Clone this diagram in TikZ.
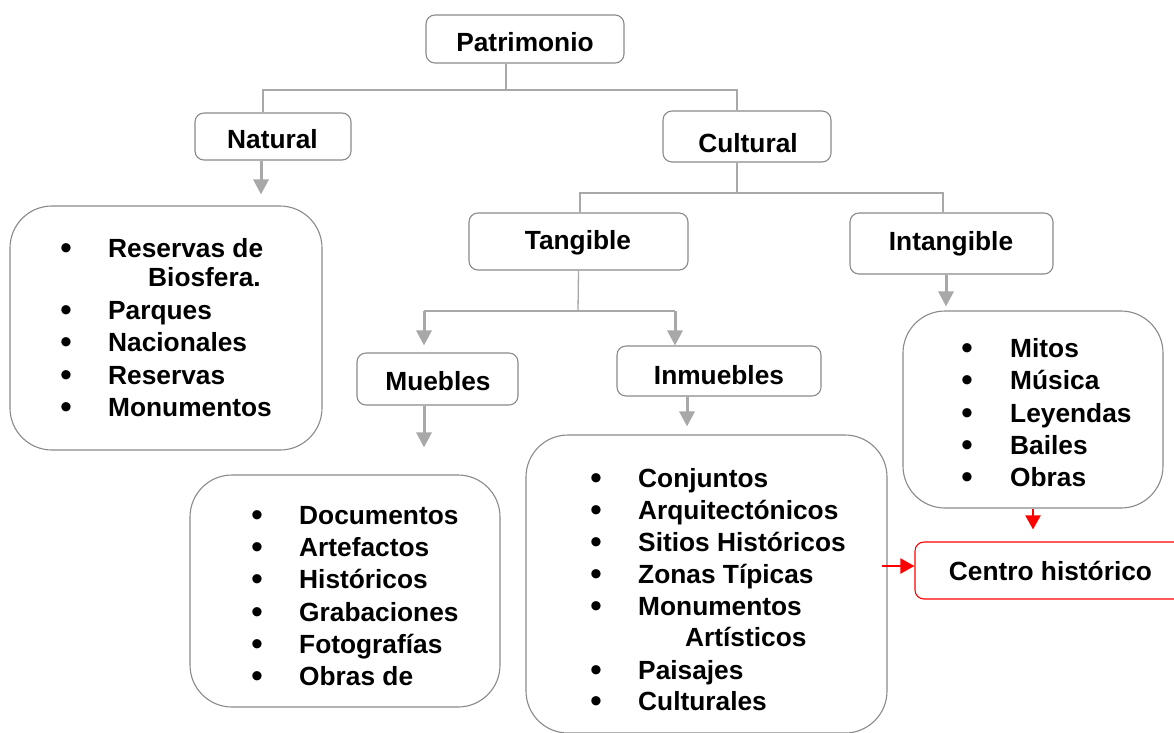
\documentclass[tikz,border=0pt]{standalone}
\usepackage{fontspec}
\setmainfont{Liberation Sans}
\usetikzlibrary{arrows.meta}
\definecolor{boxgray}{HTML}{8A8A8A}
\definecolor{lngray}{HTML}{A8A8A8}
\definecolor{redc}{HTML}{FF0000}
\begin{document}
\begin{tikzpicture}[x=1pt,y=-1pt,
  txt/.style={font=\fontsize{26.3}{32}\selectfont\bfseries, inner sep=0pt},
  lbl/.style={txt, anchor=base},
  itm/.style={txt, anchor=base west},
  bul/.style={font=\fontsize{34}{34}\selectfont, inner sep=0pt, anchor=base, yshift=-2pt},
  smallbox/.style={draw=boxgray, line width=1.1pt, rounded corners=9pt, inner sep=0pt},
  listbox/.style={draw=boxgray, line width=1.1pt, rounded corners=42pt, inner sep=0pt},
  conn/.style={draw=lngray, line width=1.3pt},
  arr/.style={draw=lngray, line width=3pt, -{Triangle[width=15pt,length=15pt]}},
  redarr/.style={draw=redc, line width=2pt, -{Triangle[width=15pt,length=14pt]}}]
\clip (0,0) rectangle (1174,732);
\fill[white] (0,0) rectangle (1174,732);

% ---- boxes ----
\node[smallbox, minimum width=198pt, minimum height=48pt] (pat) at (525,39) {};
\node[smallbox, minimum width=156pt, minimum height=47pt] (nat) at (273,136.5) {};
\node[smallbox, minimum width=168pt, minimum height=51pt] (cul) at (747,136.5) {};
\node[smallbox, minimum width=219pt, minimum height=57pt] (tan) at (578.5,241.5) {};
\node[smallbox, minimum width=203pt, minimum height=61pt] (int) at (951.5,243.5) {};
\node[smallbox, minimum width=161pt, minimum height=52pt] (mue) at (437.5,379) {};
\node[smallbox, minimum width=204pt, minimum height=50pt] (inm) at (719,371) {};
\node[smallbox, draw=redc, minimum width=275pt, minimum height=57pt] (cen) at (1052.5,570.5) {};

\node[listbox, minimum width=312pt, minimum height=244pt] (natl) at (166,328) {};
\node[listbox, minimum width=310pt, minimum height=232pt] (muel) at (345,591) {};
\node[listbox, minimum width=361pt, minimum height=298pt] (inml) at (706.5,584) {};
\node[listbox, minimum width=260pt, minimum height=197pt] (intl) at (1033,409.5) {};

% ---- box labels ----
\node[lbl] (patT) at (525,51) {Patrimonio};
\node[lbl] (natT) at (272.5,148) {Natural};
\node[lbl] (culT) at (748,152) {Cultural};
\node[lbl] (tanT) at (578,249) {Tangible};
\node[lbl] (intT) at (951,250) {Intangible};
\node[lbl] (mueT) at (438,390) {Muebles};
\node[lbl] (inmT) at (719,384) {Inmuebles};
\node[lbl] (cenT) at (1050.5,580) {Centro histórico};

% ---- Natural list ----
\foreach \y/\t [count=\i] in {257/Reservas de, 319/Parques, 351/Nacionales, 384/Reservas, 416/Monumentos}{
  \node[bul] (nb\i) at (66,\y) {•};
  \node[itm] (ni\i) at (108,\y) {\t};
}
\node[itm] (ni6) at (148,286) {Biosfera.};

% ---- Muebles list ----
\foreach \y/\t [count=\i] in {524/Documentos, 556/Artefactos, 588/Históricos, 621/Grabaciones, 653/Fotografías, 685/Obras de}{
  \node[bul] (mb\i) at (257,\y) {•};
  \node[itm] (mi\i) at (299,\y) {\t};
}

% ---- Inmuebles list ----
\foreach \y/\t [count=\i] in {487/Conjuntos, 519/Arquitectónicos, 551/Sitios Históricos, 583/Zonas Típicas, 615/Monumentos, 679/Paisajes, 710/Culturales}{
  \node[bul] (ib\i) at (596,\y) {•};
  \node[itm] (ii\i) at (638,\y) {\t};
}
\node[itm] (ii8) at (685,646) {Artísticos};

% ---- Intangible list ----
\foreach \y/\t [count=\i] in {357/Mitos, 389/Música, 422/Leyendas, 454/Bailes, 486/Obras}{
  \node[bul] (tb\i) at (967,\y) {•};
  \node[itm] (ti\i) at (1010,\y) {\t};
}

% ---- connectors ----
\coordinate (j1) at (506,90);
\draw[conn] ([xshift=-19pt]pat.south) -- (j1);
\draw[conn] (j1) -| ([xshift=-10pt]nat.north);
\draw[conn] (j1) -| ([xshift=-10pt]cul.north);

\coordinate (j2) at (737,193);
\draw[conn] ([xshift=-10pt]cul.south) -- (j2);
\draw[conn] (j2) -| ([xshift=1.5pt]tan.north);
\draw[conn] (j2) -| ([xshift=-8.5pt]int.north);

\coordinate (j3) at (578,311);
\draw[conn] (tan.south) -- (j3);
\draw[conn, line width=2.4pt] (424,311) -- (675,311);
\draw[arr, shorten >=7pt] (424,311) -- ([xshift=-13.5pt]mue.north);
\draw[arr, shorten >=0pt] (675,311) -- ([xshift=-44pt]inm.north);

\draw[arr, shorten >=11pt] ([xshift=-12pt]nat.south) -- ([xshift=-12pt]nat.south |- natl.north);
\draw[arr, shorten >=27pt] ([xshift=-13.5pt]mue.south) -- ([xshift=-13.5pt]mue.south |- muel.north);
\draw[arr, shorten >=8pt] ([xshift=-32pt]inm.south) -- ([xshift=-32pt]inm.south |- inml.north);
\draw[arr, shorten >=4pt] ([xshift=-5.5pt]int.south) -- ([xshift=-5.5pt]int.south |- intl.north);

\draw[redarr, shorten >=12pt] (intl.south) -- (intl.south |- cen.north);
\coordinate (rs) at (882,566);
\draw[redarr] (rs) -- (rs -| cen.west);
\end{tikzpicture}
\end{document}
